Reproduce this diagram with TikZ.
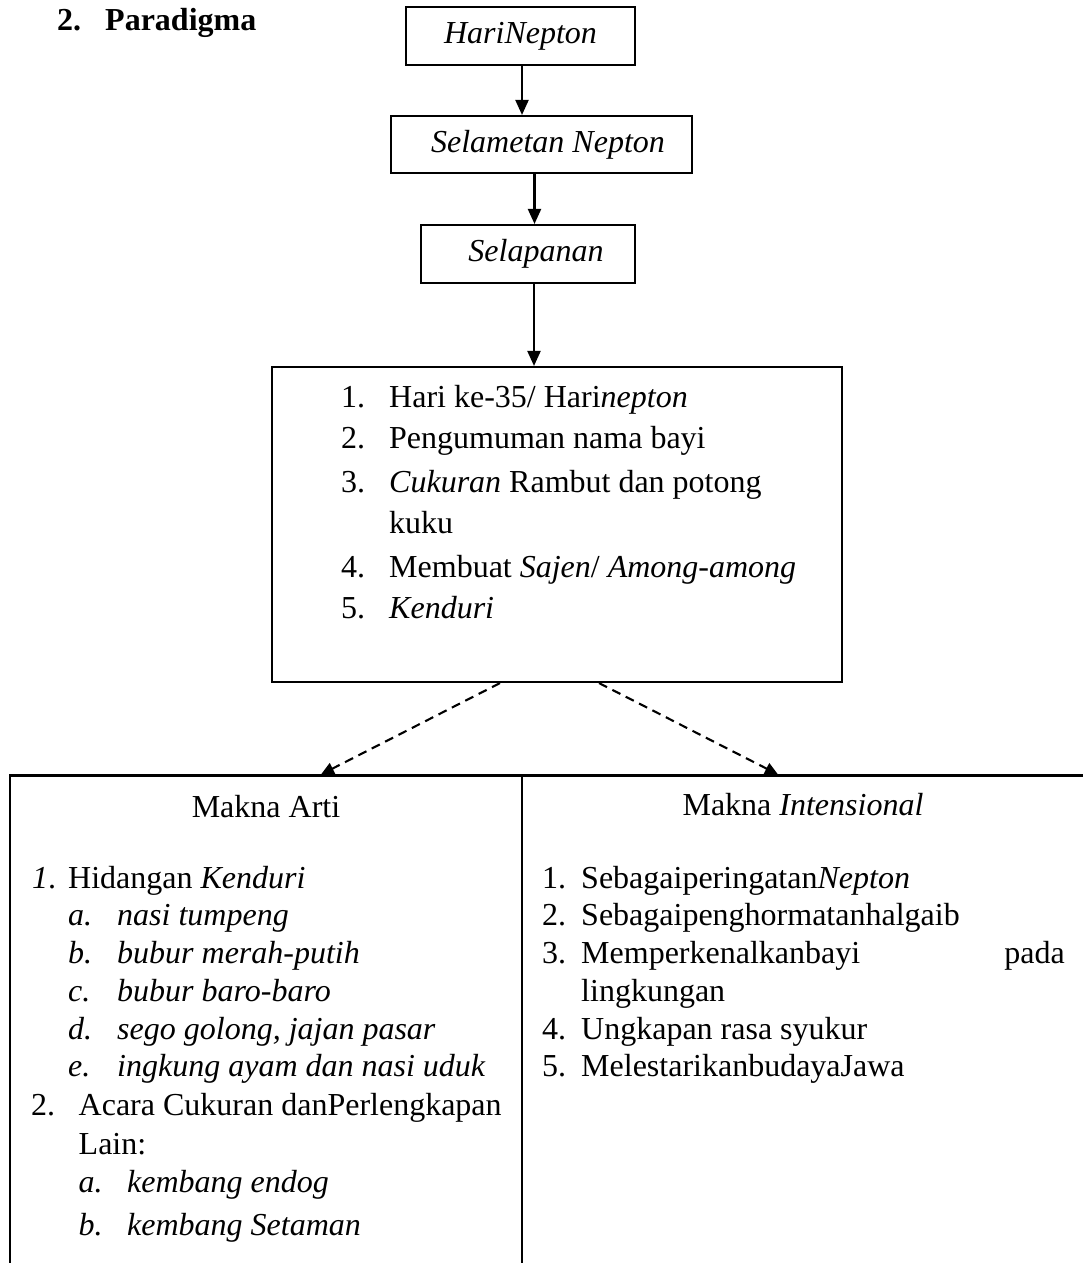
\documentclass[tikz,border=0pt]{standalone}
\usepackage{fontspec}
\setmainfont{Liberation Serif}
\usetikzlibrary{arrows.meta}
\begin{document}
\begin{tikzpicture}[x=1pt,y=-1pt,
  every node/.style={font=\fontsize{32pt}{38pt}\selectfont, inner sep=0pt},
  box/.style={draw, line width=2.1pt},
  arr/.style={line width=2.1pt, -{Triangle[length=15pt,width=13pt]}},
  darr/.style={line width=2.1pt, dash pattern=on 9pt off 6pt, -{Triangle[length=13pt,width=12pt]}},
  txt/.style={anchor=base west},
  ctxt/.style={anchor=base}]
\useasboundingbox (0,0) rectangle (1082,1263);

% heading
\node[txt] (h1) at (57,31) {\bfseries 2.};
\node[txt] (h2) at (105,31) {\bfseries Paradigma};

% top chain
\node[box, minimum width=229pt, minimum height=58pt] (b1) at (520.5,36) {\itshape HariNepton};
\node[box, minimum width=301pt, minimum height=57pt] (b2) at (541.5,144.5) {\hspace*{13pt}\itshape Selametan Nepton};
\node[box, minimum width=214pt, minimum height=58pt] (b3) at (528,254) {\hspace*{16pt}\itshape Selapanan};
\node[box, minimum width=570pt, minimum height=315pt] (mid) at (557,524.5) {};

\draw[arr] ([xshift=1.5pt]b1.south) -- ([xshift=1.5pt]b1.south |- b2.north);
\draw[arr] ([xshift=-7pt]b2.south) -- ([xshift=-7pt]b2.south |- b3.north);
\draw[arr] ([xshift=6pt]b3.south) -- ([xshift=6pt]b3.south |- mid.north);

% middle list
\node[txt] (m1n) at (341,407) {1.};
\node[txt] (m1t) at (389,407) {Hari ke-35/ Hari\textit{nepton}};
\node[txt] (m2n) at (341,448) {2.};
\node[txt] (m2t) at (389,448) {Pengumuman nama bayi};
\node[txt] (m3n) at (341,492) {3.};
\node[txt] (m3t) at (389,492) {\textit{Cukuran} Rambut dan potong};
\node[txt] (m3u) at (389,533) {kuku};
\node[txt] (m4n) at (341,577) {4.};
\node[txt] (m4t) at (389,577) {Membuat \textit{Sajen}/ \textit{Among-among}};
\node[txt] (m5n) at (341,618) {5.};
\node[txt] (m5t) at (389,618) {\textit{Kenduri}};

% bottom boxes (cropped at the page bottom / right)
\node[box, minimum width=512.4pt, minimum height=524.5pt] (left) at (265.8,1037.75) {};
\node[box, minimum width=598pt, minimum height=524.5pt] (right) at (821,1037.75) {};

\draw[darr] ([xshift=-57pt]mid.south) -- ([xshift=55.2pt]left.north);
\draw[darr] ([xshift=42pt]mid.south) -- ([xshift=-43pt]right.north);

% left box content
\node[ctxt] (lt) at (266,817) {Makna Arti};
\node[txt] (l1n) at (32,888) {\textit{1}.};
\node[txt] (l1t) at (68,888) {Hidangan \textit{Kenduri}};
\node[txt] (lan) at (68,925) {\textit{a.}};
\node[txt] (lat) at (117,925) {\textit{nasi tumpeng}};
\node[txt] (lbn) at (68,963) {\textit{b.}};
\node[txt] (lbt) at (117,963) {\textit{bubur merah-putih}};
\node[txt] (lcn) at (68,1001) {\textit{c.}};
\node[txt] (lct) at (117,1001) {\textit{bubur baro-baro}};
\node[txt] (ldn) at (68,1039) {\textit{d.}};
\node[txt] (ldt) at (117,1039) {\textit{sego golong, jajan pasar}};
\node[txt] (len) at (68,1076) {\textit{e.}};
\node[txt] (let) at (117,1076) {\textit{ingkung ayam dan nasi uduk}};
\node[txt] (l2n) at (31,1115) {2.};
\node[txt] (l2t) at (78.5,1115) {Acara Cukuran danPerlengkapan};
\node[txt] (l2u) at (78.5,1154) {Lain:};
\node[txt] (l2an) at (78.5,1192) {\textit{a.}};
\node[txt] (l2at) at (127,1192) {\textit{kembang endog}};
\node[txt] (l2bn) at (78.5,1235) {\textit{b.}};
\node[txt] (l2bt) at (127,1235) {\textit{kembang Setaman}};

% right box content
\node[ctxt] (rt) at (803,815) {Makna \textit{Intensional}};
\node[txt] (r1n) at (542,888) {1.};
\node[txt] (r1t) at (581,888) {Sebagaiperingatan\textit{Nepton}};
\node[txt] (r2n) at (542,925.5) {2.};
\node[txt] (r2t) at (581,925.5) {Sebagaipenghormatanhalgaib};
\node[txt] (r3n) at (542,963) {3.};
\node[txt] (r3t) at (581,963) {Memperkenalkanbayi};
\node[anchor=base east] (r3p) at (1065,963) {pada};
\node[txt] (r3u) at (581,1001) {lingkungan};
\node[txt] (r4n) at (542,1039) {4.};
\node[txt] (r4t) at (581,1039) {Ungkapan rasa syukur};
\node[txt] (r5n) at (542,1076) {5.};
\node[txt] (r5t) at (581,1076) {MelestarikanbudayaJawa};
\end{tikzpicture}
\end{document}
